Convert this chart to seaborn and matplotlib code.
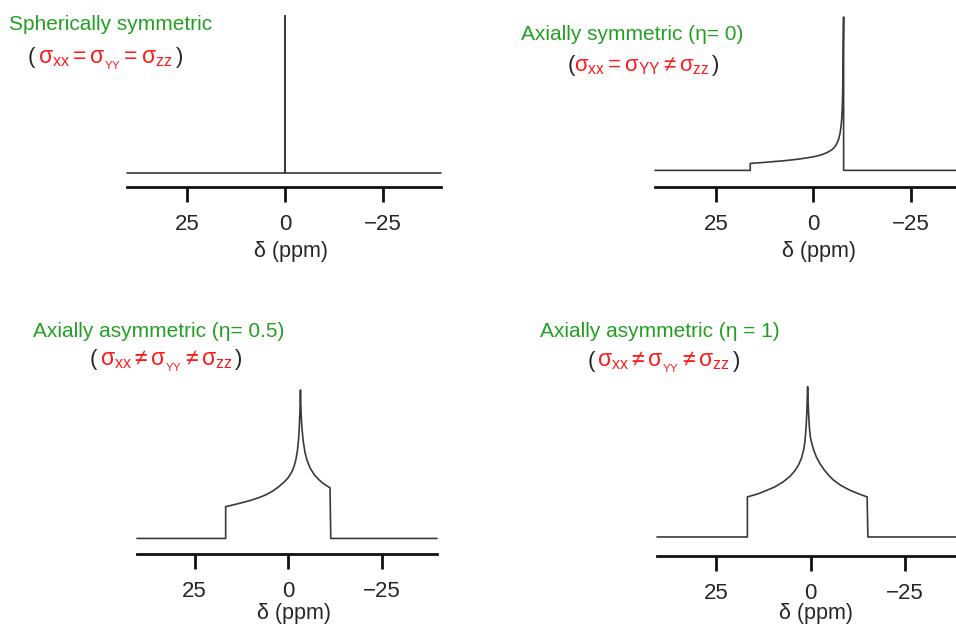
"""
Chemical shift anisotropy powder patterns for four tensor symmetries.
"""

import matplotlib
matplotlib.use('Agg')
import matplotlib.pyplot as plt
import seaborn as sns

# Data (delta in ppm, intensity in arbitrary units)
sph_ppm = [40.3, 0.0, 0.0, 0.0, -39.8]
sph_int = [0, 0, 157, 0, 0]

ax0_ppm = [40.7, 16.2, 16.2, 14, 12, 10, 8, 6, 4, 2, 0, -1, -2, -3, -4, -4.8, -5.4,
           -5.9, -6.3, -6.6, -6.9, -7.1, -7.3, -7.45, -7.55, -7.65, -7.72, -7.8, -7.8, -36.7]
ax0_int = [0, 0, 7, 7.6, 8.2, 8.9, 9.5, 10.3, 11.2, 12.3, 13.6, 14.5, 15.5, 17, 18.8, 20.8, 23,
           25.8, 29, 32.5, 37.5, 43, 51, 62, 76, 100, 130, 154, 0, 0]

eta05_ppm = [40.4, 16.7, 16.7, 14.5, 12.4, 10, 7.9, 6, 4, 2.5, 1, 0, -1, -1.6, -2.1, -2.5,
             -2.8, -3.0, -3.15, -3.25, -3.3, -3.35, -3.5, -3.7, -4.0, -4.5, -5.0, -5.9, -7,
             -8.1, -9.5, -11.2, -11.4, -39.8]
eta05_int = [0, 0, 31.7, 33.6, 35.6, 38, 40.6, 43.4, 47.5, 51.6, 56.5, 60.5, 66.5, 72, 79, 88,
             99, 112, 126, 140, 148, 138, 122, 110, 98, 86, 78.5, 70, 63.5,
             59, 54.5, 50.5, 0, 0]

eta1_ppm = [40.8, 16.8, 16.8, 14, 11.7, 9.5, 7.3, 5.5, 4.2, 3.2, 2.4, 1.8, 1.5, 1.2, 1.0, 0.9,
            0.8, 0.7, 0.55, 0.35, 0.05, -0.4, -0.8, -1.5, -2.5, -3.6, -4.8, -6.0, -8, -10.4,
            -12.8, -15.0, -15.2, -38.6]
eta1_int = [0, 0, 40, 43, 46.5, 50, 55, 60.5, 66, 72, 79, 88, 96, 110, 125, 138,
            150, 138, 124, 110, 99, 92, 87, 80, 73, 67, 61.5, 57, 51.5, 46.7,
            43, 40, 0, 0]

tick_vals = [25, 0, -25]
tick_labels = ['25', '0', '\u221225']

titles = ['Spherically symmetric',
          'Axially symmetric (\u03b7= 0)',
          'Axially asymmetric (\u03b7= 0.5)',
          'Axially asymmetric (\u03b7 = 1)']
relations = [r'$\sigma_{xx} = \sigma_{{}_{YY}} = \sigma_{zz}$',
             r'$\sigma_{xx} = \sigma_{YY} \neq \sigma_{zz}$',
             r'$\sigma_{xx} \neq \sigma_{{}_{YY}} \neq \sigma_{zz}$',
             r'$\sigma_{xx} \neq \sigma_{{}_{YY}} \neq \sigma_{zz}$']

sns.set_style('white')
plt.rcParams['font.family'] = ['Liberation Sans', 'DejaVu Sans']
plt.rcParams['mathtext.fontset'] = 'custom'
plt.rcParams['mathtext.rm'] = 'Liberation Sans'
plt.rcParams['mathtext.it'] = 'Liberation Sans'
plt.rcParams['mathtext.bf'] = 'Liberation Sans:bold'

W, H = 956, 625
fig = plt.figure(figsize=(W / 100, H / 100), dpi=100)
GREEN = '#23a023'
RED = '#ff1a1a'

# panel layout in pixels: left, right, top, spine y, gap below baseline, label pad
panels = [
    (sph_ppm, sph_int, (127, 441, 16, 187, 14, 4)),
    (ax0_ppm, ax0_int, (655, 956, 17, 187, 16.7, 4)),
    (eta05_ppm, eta05_int, (137, 437, 390, 554, 15.5, 0.5)),
    (eta1_ppm, eta1_int, (657, 956, 386.7, 556, 19, -0.5)),
]

for ppm, inten, (l, r, t, b, gap, lpad) in panels:
    ax = fig.add_axes([l / W, 1 - b / H, (r - l) / W, (b - t) / H])
    sns.lineplot(x=ppm, y=inten, sort=False, estimator=None, ax=ax,
                 color='#3a3a3a', linewidth=1.2)
    for ln in ax.lines:
        ln.set_clip_on(False)
    ax.set_xlim(ppm[0], ppm[-1])
    ax.set_ylim(-gap, max(inten))
    ax.set_yticks([])
    ax.set_ylabel('')
    ax.set_xticks(tick_vals)
    ax.set_xticklabels(tick_labels)
    for side in ['left', 'right', 'top']:
        ax.spines[side].set_visible(False)
    ax.spines['bottom'].set_linewidth(2)
    ax.spines['bottom'].set_color('#111111')
    ax.tick_params(axis='x', bottom=True, direction='out', length=10.5, width=2,
                   color='#111111', pad=9, labelsize=16)
    ax.set_xlabel('\u03b4 (ppm)', fontsize=15.5, labelpad=lpad)
    x0, x1 = ax.get_xlim()
    ax.xaxis.label.set_x((x0 - (-1.5)) / (x0 - x1))
    ax.patch.set_alpha(0)

# titles (pixel positions)
title_pos = [(9, 30), (521, 40), (33, 336.7), (540, 336.7)]
rel_pos = [(28, 183, 105, 63), (568, 719, 642, 71.5), (90, 242, 166, 365), (588, 740, 663, 366.5)]
rel_size = [16.5, 16, 16.5, 16.5]

for text, (x, y) in zip(titles, title_pos):
    fig.text(x / W, 1 - y / H, text, color=GREEN, fontsize=15,
             ha='left', va='baseline')

for text, (pl, pr, xc, y), fs in zip(relations, rel_pos, rel_size):
    fig.text(pl / W, 1 - y / H, '(', fontsize=16, ha='left', va='baseline')
    fig.text(pr / W, 1 - y / H, ')', fontsize=16, ha='right', va='baseline')
    fig.text(xc / W, 1 - y / H, text, color=RED, fontsize=fs,
             ha='center', va='baseline')

fig.savefig('out.png', dpi=100)
